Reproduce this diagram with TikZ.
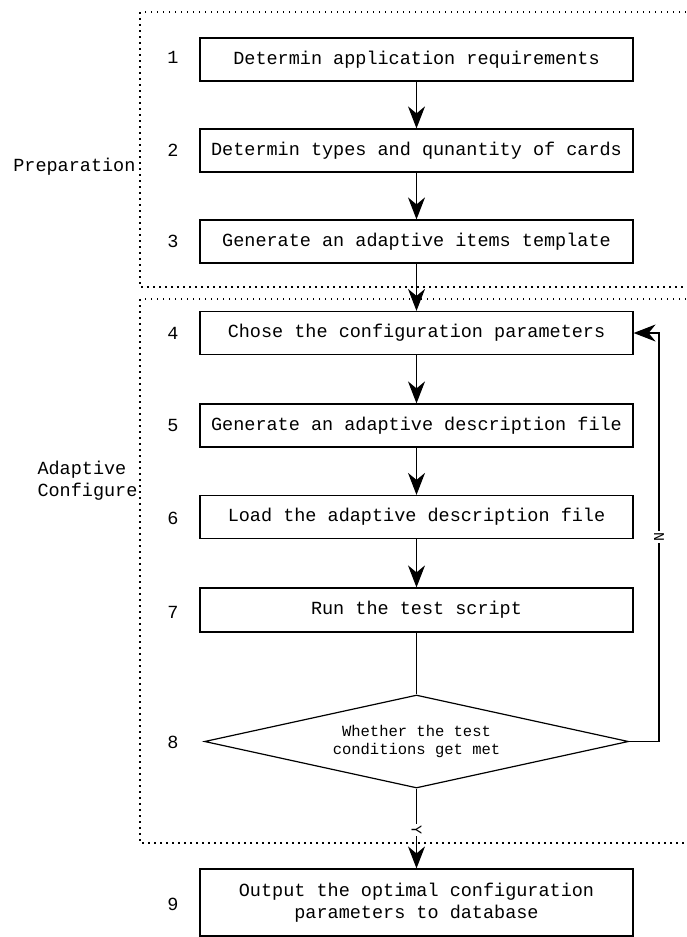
\documentclass[tikz,border=0pt]{standalone}
\usepackage{fontspec}
\newfontfamily\lblfont{Liberation Mono}
\usetikzlibrary{arrows.meta,shapes.geometric}
\begin{document}
\begin{tikzpicture}[x=1pt,y=-1pt,
  procbox/.style={draw, line width=1.2pt, minimum width=433pt, minimum height=43pt, inner sep=0pt, align=center,
    font=\lblfont\fontsize{18.5}{22}\selectfont},
  decision/.style={draw, diamond, aspect=4.56, line width=1.2pt, minimum width=424pt, minimum height=93pt, inner sep=0pt, align=center,
    font=\lblfont\fontsize{15.5}{18}\selectfont},
  numlbl/.style={font=\lblfont\fontsize{18.5}{22}\selectfont},
  grouplbl/.style={font=\lblfont\fontsize{18.5}{22}\selectfont, align=left},
  yn/.style={font=\lblfont\fontsize{15}{17}\selectfont, fill=white, inner sep=1.5pt, rotate=-90},
  dotline/.style={line width=1.3pt, dash pattern=on 1.5pt off 4.5pt},
  arr/.style={line width=1.2pt, -{Stealth[length=22pt,width=17pt,inset=7pt]}},
  conn/.style={line width=1.2pt}]
\useasboundingbox (0,0) rectangle (686,937);

% group frames
\draw[dotline] (686,12) -- (140,12) -- (140,287) -- (686,287);
\draw[dotline] (686,299) -- (140,299) -- (140,843) -- (686,843);

\node[grouplbl, anchor=east] (gprep) at (139,167) {Preparation};
\node[grouplbl, anchor=west] (gadapt) at (34,481) {Adaptive\\Configure};

% boxes
\node[procbox] (b1) at (416.5,59.5) {Determin application requirements};
\node[procbox] (b2) at (416.5,150.5) {Determin types and qunantity of cards};
\node[procbox] (b3) at (416.5,241.5) {Generate an adaptive items template};
\node[procbox] (b4) at (416.5,333) {Chose the configuration parameters};
\node[procbox] (b5) at (416.5,425.5) {Generate an adaptive description file};
\node[procbox] (b6) at (416.5,517) {Load the adaptive description file};
\node[procbox, minimum height=44pt] (b7) at (416.5,610) {Run the test script};
\node[decision] (d) at (416.5,741.5) {Whether the test\\conditions get met};
\node[procbox, minimum height=67pt] (b9) at (416.5,902.5) {Output the optimal configuration\\parameters to database};

% numbers
\node[numlbl] (n1) at (173,57) {1};
\node[numlbl] (n2) at (173,150) {2};
\node[numlbl] (n3) at (173,241) {3};
\node[numlbl] (n4) at (173,333) {4};
\node[numlbl] (n5) at (173,425) {5};
\node[numlbl] (n6) at (173,518) {6};
\node[numlbl] (n7) at (173,612) {7};
\node[numlbl] (n8) at (173,742) {8};
\node[numlbl] (n9) at (173,904) {9};

% connectors
\draw[arr] (b1) -- (b2);
\draw[arr] (b2) -- (b3);
\draw[arr] (b3) -- (b4);
\draw[arr] (b4) -- (b5);
\draw[arr] (b5) -- (b6);
\draw[arr] (b6) -- (b7);
\draw[conn] (b7.south) -- (d.north);
\draw[arr] (d.south) -- node[yn, pos=0.52] {Y} (b9.north);
\coordinate (fb) at (659,741.5);
\draw[arr] (d.east) -- (fb) |- node[yn, pos=0.25] {N} (b4.east);
\end{tikzpicture}
\end{document}
